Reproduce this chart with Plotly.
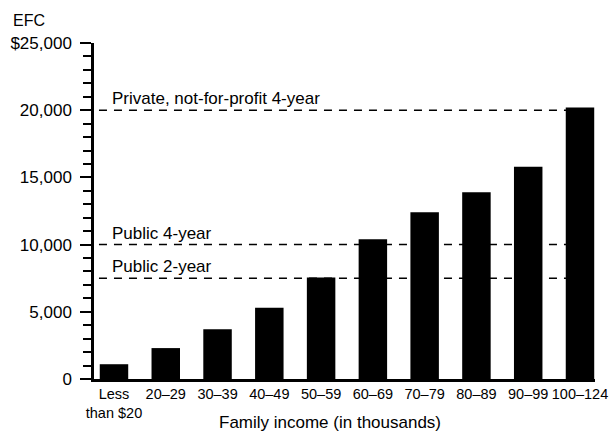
import plotly.graph_objects as go

categories = ["Less<br>than $20", "20–29", "30–39", "40–49", "50–59",
              "60–69", "70–79", "80–89", "90–99", "100–124"]
efc_values = [1100, 2300, 3700, 5300, 7550, 10400, 12400, 13900, 15800, 20200]

ref_levels = [20000, 10000, 7500]
ref_labels = ["Private, not-for-profit 4-year", "Public 4-year", "Public 2-year"]

tick_vals = [0, 5000, 10000, 15000, 20000, 25000]
tick_text = ["0", "5,000", "10,000", "15,000", "20,000", "$25,000"]

FONT = "Liberation Sans, Arial, Helvetica, sans-serif"

fig = go.Figure()
fig.add_trace(go.Bar(x=categories, y=efc_values, marker=dict(color="black", line=dict(width=0)),
                     showlegend=False))

for lvl, lab in zip(ref_levels, ref_labels):
    fig.add_shape(type="line", xref="x", yref="y", x0=-0.29, x1=9, y0=lvl, y1=lvl,
                  line=dict(color="black", width=1.5, dash="8px,7px"), layer="below")
    fig.add_annotation(x=-0.07, y=lvl, xref="x", yref="y", text=lab, showarrow=False,
                       xanchor="left", yanchor="bottom", yshift=0,
                       font=dict(family=FONT, size=17, color="black"))

fig.add_annotation(x=-0.166, y=1.066, xref="paper", yref="paper", text="EFC", showarrow=False,
                   xanchor="left", yanchor="middle", font=dict(family=FONT, size=16, color="black"))
fig.add_annotation(x=0.471, y=-0.128, xref="paper", yref="paper",
                   text="Family income (in thousands)", showarrow=False,
                   xanchor="center", yanchor="middle", font=dict(family=FONT, size=17, color="black"))

fig.update_layout(
    width=612, height=438,
    margin=dict(l=94, r=17, t=43, b=59),
    paper_bgcolor="white", plot_bgcolor="white",
    bargap=0.45,
    font=dict(family=FONT, size=17, color="black"),
    xaxis=dict(type="category", range=[-0.386, 9.29], showline=True, linecolor="black",
               linewidth=2.5, ticks="", showgrid=False, zeroline=False,
               tickangle=0, automargin=False,
               tickfont=dict(size=14.5)),
    yaxis=dict(range=[0, 25000], showline=True, linecolor="black", linewidth=2.5,
               tickvals=tick_vals, ticktext=tick_text, ticks="outside", ticklen=11,
               tickwidth=2, tickcolor="black", showgrid=False, zeroline=False,
               automargin=False,
               ticklabelstandoff=5, tickfont=dict(size=17),
               minor=dict(dtick=1000, ticks="outside", ticklen=8, tickwidth=2,
                          tickcolor="black", showgrid=False)),
)

fig.write_html("out.html", config={"displayModeBar": False},
               post_script="document.body.style.margin='0';document.body.style.overflow='hidden';")
